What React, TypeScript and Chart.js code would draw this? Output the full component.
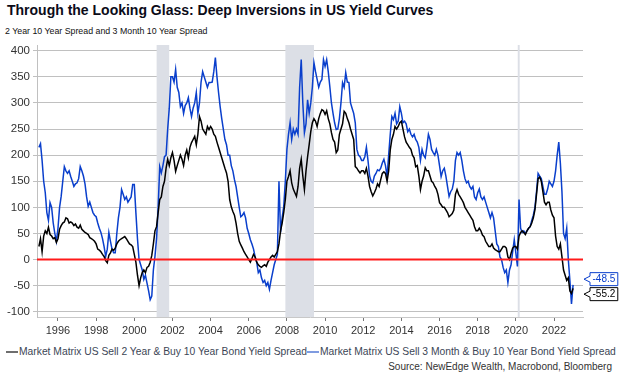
import React, { useEffect, useRef } from "react";
import { Chart, registerables } from "chart.js";

Chart.register(...registerables);

const titleText = "Through the Looking Glass: Deep Inversions in US Yield Curves";
const subtitleText = "2 Year 10 Year Spread and 3 Month 10 Year Spread";
const sourceText = "Source: NewEdge Wealth, Macrobond, Bloomberg";
const seriesNames = [
  "Market Matrix US Sell 2 Year & Buy 10 Year Bond Yield Spread",
  "Market Matrix US Sell 3 Month & Buy 10 Year Bond Yield Spread",
];

// monthly observations starting January 1995 (bps)
const startYear = 1995;

const twoYearTen = [
  25, 40, 15, 45, 55, 50, 62, 48, 45, 40, 42, 33, // 1995
  40, 58, 65, 70, 72, 80, 78, 70, 72, 70, 65, 68, // 1996
  62, 60, 66, 58, 55, 52, 50, 48, 42, 40, 38, 35, // 1997
  30, 20, 18, 15, 10, 6, -2, -6, 8, 13, 20, 18, // 1998
  22, 30, 35, 38, 40, 42, 44, 40, 35, 30, 28, 25, // 1999
  10, -5, -30, -50, -35, -25, -20, -25, -15, -13, -5, 8, // 2000
  30, 55, 63, 90, 115, 120, 140, 150, 175, 192, 180, 195, // 2001
  205, 190, 169, 180, 190, 200, 192, 180, 200, 210, 195, 215, // 2002
  224, 230, 236, 220, 240, 274, 265, 250, 245, 240, 255, 249, // 2003
  255, 250, 240, 236, 225, 215, 205, 195, 185, 175, 166, 150, // 2004
  115, 101, 92, 85, 70, 50, 35, 28, 22, 15, 10, 5, // 2005
  0, -5, 2, 10, 5, -5, -10, -13, -15, -12, -10, -13, // 2006
  -5, 0, 5, 8, 5, 10, 15, 30, 55, 70, 90, 115, // 2007
  150, 159, 170, 147, 135, 128, 121, 140, 175, 192, 160, 134, // 2008
  170, 197, 220, 245, 262, 270, 265, 255, 270, 280, 287, 285, // 2009
  278, 285, 270, 260, 243, 230, 225, 205, 210, 240, 250, 260, // 2010
  284, 280, 270, 262, 250, 240, 230, 178, 175, 170, 166, 170, // 2011
  170, 165, 175, 160, 140, 130, 122, 128, 135, 145, 140, 153, // 2012
  165, 168, 165, 150, 170, 210, 230, 240, 255, 250, 255, 262, // 2013
  265, 250, 235, 225, 220, 215, 211, 200, 195, 178, 180, 160, // 2014
  134, 150, 160, 176, 170, 170, 160, 150, 147, 140, 135, 125, // 2015
  109, 105, 100, 100, 95, 90, 82, 85, 88, 95, 125, 134, // 2016
  125, 120, 115, 109, 100, 95, 90, 85, 80, 75, 63, 55, // 2017
  55, 60, 55, 47, 44, 35, 30, 25, 25, 30, 22, 19, // 2018
  17, 15, 15, 20, 25, 25, 22, 5, 0, 12, 22, 25, // 2019
  25, 20, 45, 52, 55, 52, 48, 55, 60, 63, 70, 80, // 2020
  95, 125, 155, 158, 150, 130, 110, 105, 110, 110, 95, 85, // 2021
  80, 45, 25, 20, 30, 5, -20, -30, -40, -35, -60, -65, // 2022
  -55.2, // 2023
];

const threeMonthTen = [
  215, 222, 190, 150, 128, 90, 75, 109, 100, 70, 50, 35, // 1995
  60, 100, 121, 150, 178, 170, 165, 170, 159, 150, 140, 145, // 1996
  147, 155, 178, 170, 160, 145, 120, 102, 110, 100, 90, 85, // 1997
  82, 70, 60, 52, 40, 25, 6, 20, 52, 35, 20, 13, // 1998
  13, 50, 80, 100, 134, 125, 115, 120, 110, 115, 120, 144, // 1999
  144, 90, 40, 0, -10, -20, -38, -30, -45, -60, -77, -70, // 2000
  -20, 6, 40, 100, 178, 166, 180, 197, 200, 250, 290, 350, // 2001
  350, 340, 364, 330, 320, 293, 300, 280, 295, 300, 310, 290, // 2002
  274, 290, 300, 320, 280, 300, 340, 360, 350, 340, 330, 339, // 2003
  339, 340, 360, 387, 350, 320, 293, 270, 250, 230, 220, 200, // 2004
  200, 180, 170, 153, 140, 120, 100, 82, 85, 90, 80, 60, // 2005
  50, 38, 30, 20, 5, -5, -25, -20, -35, -44, -40, -50, // 2006
  -44, -57, -40, -25, -10, 0, 10, 150, 52, 80, 102, 150, // 2007
  211, 240, 262, 230, 250, 240, 250, 240, 330, 383, 300, 243, // 2008
  260, 306, 280, 300, 330, 377, 360, 345, 330, 340, 345, 383, // 2009
  370, 383, 360, 331, 300, 280, 262, 249, 250, 270, 300, 339, // 2010
  330, 358, 340, 339, 300, 290, 280, 262, 211, 200, 197, 190, // 2011
  190, 197, 215, 190, 160, 150, 147, 160, 165, 172, 170, 175, // 2012
  185, 192, 180, 159, 200, 240, 274, 268, 280, 260, 265, 293, // 2013
  280, 262, 265, 260, 245, 250, 240, 235, 240, 230, 225, 215, // 2014
  190, 211, 200, 195, 215, 240, 230, 211, 205, 200, 211, 200, // 2015
  180, 159, 170, 175, 160, 140, 121, 130, 135, 150, 190, 205, // 2016
  200, 205, 190, 170, 155, 147, 150, 140, 135, 140, 120, 115, // 2017
  128, 135, 120, 115, 120, 110, 100, 90, 80, 90, 80, 55, // 2018
  30, 25, 5, 0, -15, -25, -20, -44, -20, -10, 15, 38, // 2019
  13, -13, 115, 60, 52, 55, 50, 55, 60, 63, 75, 85, // 2020
  100, 130, 165, 160, 155, 140, 125, 125, 135, 150, 145, 140, // 2021
  150, 170, 200, 225, 185, 130, 50, 40, 60, 0, -40, -85, // 2022
  -48.5, // 2023
];

const yearTicks = [1996, 1998, 2000, 2002, 2004, 2006, 2008, 2010, 2012, 2014, 2016, 2018, 2020, 2022];
const valueTicks = [-100, -50, 0, 50, 100, 150, 200, 250, 300, 350, 400];
const recessionStarts = [2001.17, 2007.92, 2020.1];
const recessionEnds = [2001.83, 2009.42, 2020.2];

const seriesColors = ["#000000", "#0a3fcc"];
const legendColors = ["#6e6e6e", "#7f9be0"];
const zeroLineColor = "#ff1a1a";
const shadeColor = "#dcdfe6";
const FONT = "Arial, 'Liberation Sans', sans-serif";

const toPoints = (vals: number[]) => vals.map((v, i) => ({ x: startYear + i / 12, y: v }));

const shadingPlugin = {
  id: "recessions",
  beforeDatasetsDraw(chart: any) {
    const { ctx, chartArea, scales } = chart;
    ctx.save();
    ctx.fillStyle = shadeColor;
    recessionStarts.forEach((s, i) => {
      const x0 = scales.x.getPixelForValue(s);
      const x1 = scales.x.getPixelForValue(recessionEnds[i]);
      ctx.fillRect(x0, chartArea.top, x1 - x0, chartArea.bottom - chartArea.top);
    });
    ctx.restore();
  },
};

const zeroLinePlugin = {
  id: "zeroLine",
  afterDatasetsDraw(chart: any) {
    const { ctx, chartArea, scales } = chart;
    const y = scales.y.getPixelForValue(0);
    ctx.save();
    ctx.strokeStyle = zeroLineColor;
    ctx.lineWidth = 2;
    ctx.beginPath();
    ctx.moveTo(chartArea.left, y);
    ctx.lineTo(chartArea.right, y);
    ctx.stroke();
    ctx.restore();
  },
};

const endLabelPlugin = {
  id: "endLabels",
  afterDraw(chart: any) {
    const { ctx, chartArea, scales } = chart;
    const items = chart.data.datasets.map((ds: any, i: number) => {
      const last = ds.data[ds.data.length - 1];
      return { v: last.y, y: scales.y.getPixelForValue(last.y), color: seriesColors[i] };
    });
    items.sort((a: any, b: any) => a.y - b.y);
    const gap = 15;
    for (let k = 1; k < items.length; k++) {
      if (items[k].y - items[k - 1].y < gap) {
        const mid = (items[k].y + items[k - 1].y) / 2;
        items[k - 1].y = mid - gap / 2;
        items[k].y = mid + gap / 2;
      }
    }
    ctx.save();
    ctx.font = `10px ${FONT}`;
    ctx.textBaseline = "middle";
    items.forEach((it: any) => {
      const text = it.v.toFixed(1);
      const tw = ctx.measureText(text).width;
      const bx = chartArea.right + 7;
      const bw = tw + 5;
      const bh = 13;
      const tipX = chartArea.right + 1;
      ctx.beginPath();
      ctx.moveTo(bx, it.y - bh / 2);
      ctx.lineTo(bx + bw, it.y - bh / 2);
      ctx.lineTo(bx + bw, it.y + bh / 2);
      ctx.lineTo(bx, it.y + bh / 2);
      ctx.lineTo(bx, it.y + 3);
      ctx.lineTo(tipX, it.y);
      ctx.lineTo(bx, it.y - 3);
      ctx.closePath();
      ctx.fillStyle = "#ffffff";
      ctx.fill();
      ctx.strokeStyle = it.color;
      ctx.lineWidth = 1;
      ctx.stroke();
      ctx.fillStyle = it.color;
      ctx.fillText(text, bx + 2.5, it.y + 0.5);
    });
    ctx.restore();
  },
};

export default function App() {
  const canvasRef = useRef<HTMLCanvasElement | null>(null);

  useEffect(() => {
    document.body.style.margin = "0";
    const canvas = canvasRef.current;
    if (!canvas) return;
    const chart = new Chart(canvas, {
      type: "line",
      data: {
        datasets: [
          {
            label: seriesNames[0],
            data: toPoints(twoYearTen),
            borderColor: seriesColors[0],
            borderWidth: 1.5,
            pointRadius: 0,
            tension: 0,
          },
          {
            label: seriesNames[1],
            data: toPoints(threeMonthTen),
            borderColor: seriesColors[1],
            borderWidth: 1.5,
            pointRadius: 0,
            tension: 0,
          },
        ],
      },
      options: {
        animation: false,
        responsive: false,
        maintainAspectRatio: false,
        layout: { padding: { left: 0, top: 45, right: 41, bottom: 0 } },
        plugins: {
          legend: { display: false },
          tooltip: { enabled: false },
          title: { display: false },
        },
        scales: {
          x: {
            type: "linear",
            min: 1994.9,
            max: 2023.52,
            afterBuildTicks: (s: any) => {
              s.ticks = yearTicks.map((v) => ({ value: v }));
            },
            afterFit: (s: any) => {
              s.height = 23;
            },
            ticks: {
              callback: (v: any) => String(v),
              font: { family: FONT, size: 11 },
              color: "#333333",
              maxRotation: 0,
              autoSkip: false,
              padding: 3,
            },
            grid: { drawOnChartArea: false, drawTicks: true, tickLength: 4, color: "#777777" },
            border: { display: true, color: "#c8c8c8" },
          },
          y: {
            type: "linear",
            min: -110,
            max: 411,
            afterBuildTicks: (s: any) => {
              s.ticks = valueTicks.map((v) => ({ value: v }));
            },
            afterFit: (s: any) => {
              s.width = 37;
            },
            ticks: {
              callback: (v: any) => String(v),
              font: { family: FONT, size: 11.5 },
              color: "#333333",
              padding: 3,
            },
            grid: { color: "#c0c0c0", lineWidth: 1, tickLength: 4, drawTicks: true },
            border: { display: true, color: "#c0c0c0" },
          },
        },
      },
      plugins: [shadingPlugin, zeroLinePlugin, endLabelPlugin],
    } as any);
    return () => chart.destroy();
  }, []);

  return (
    <div style={{ position: "relative", width: 624, height: 381, background: "#fff", overflow: "hidden", fontFamily: FONT }}>
      <div style={{ position: "absolute", left: 7, top: 2, fontSize: 14, fontWeight: "bold", color: "#0b0b18", whiteSpace: "nowrap", lineHeight: "17px" }}>
        {titleText}
      </div>
      <div style={{ position: "absolute", left: 5, top: 26, fontSize: 8.8, color: "#111", whiteSpace: "nowrap", lineHeight: "10px" }}>
        {subtitleText}
      </div>
      <canvas ref={canvasRef} width={624} height={340} style={{ position: "absolute", left: 0, top: 0, width: 624, height: 340 }} />
      <div style={{ position: "absolute", left: 6, top: 344, width: 612, overflow: "hidden", whiteSpace: "nowrap", fontSize: 10.3, lineHeight: "12px", color: "#3c4656" }}>
        {seriesNames.map((n, i) => (
          <span key={n} style={{ display: "inline-flex", alignItems: "center" }}>
            <span style={{ display: "inline-block", width: 12, height: 2, background: legendColors[i], marginRight: 1 }} />
            <span>{n}</span>
          </span>
        ))}
      </div>
      <div style={{ position: "absolute", right: 12, top: 361, fontSize: 10, lineHeight: "12px", color: "#333", whiteSpace: "nowrap" }}>
        {sourceText}
      </div>
    </div>
  );
}
